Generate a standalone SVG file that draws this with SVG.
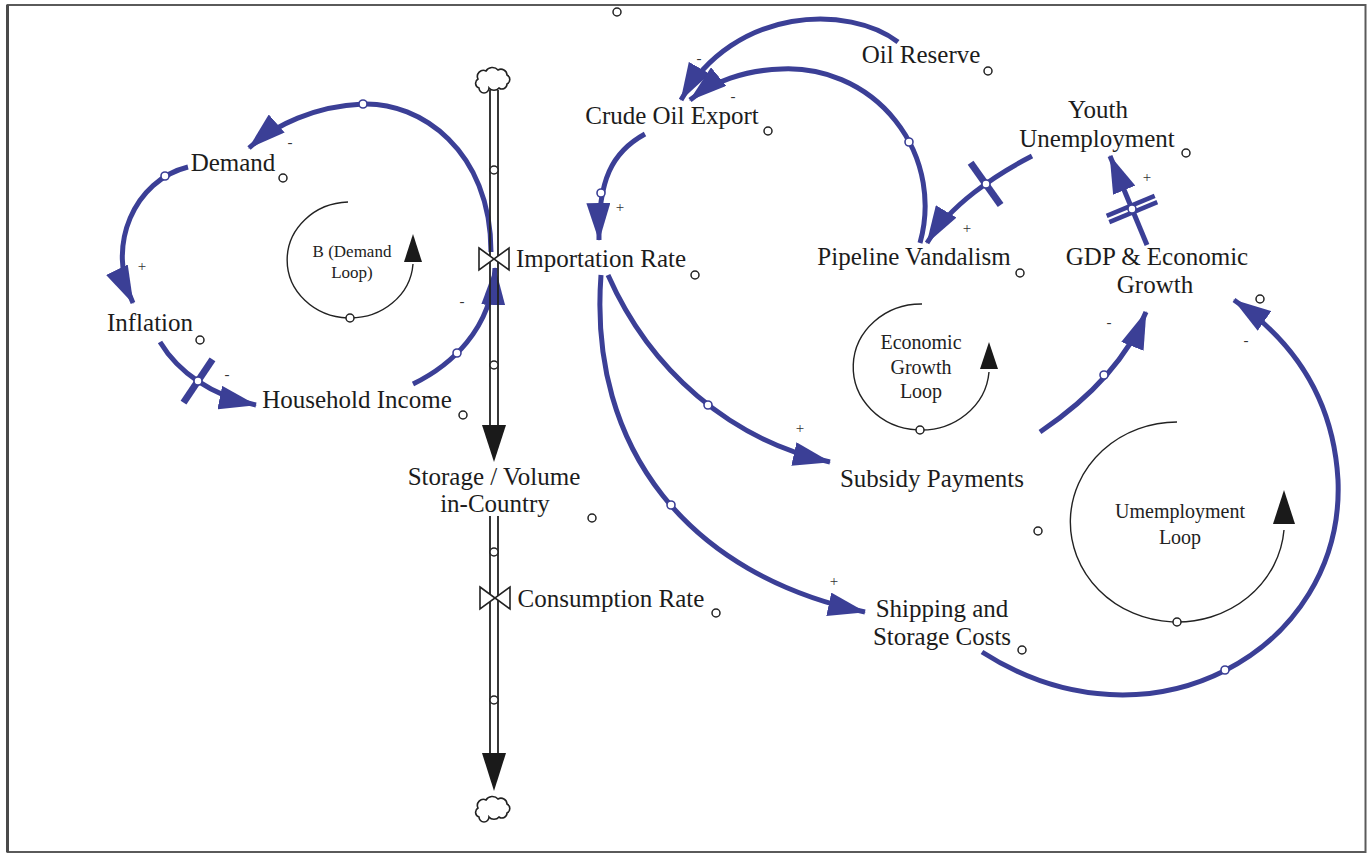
<svg xmlns="http://www.w3.org/2000/svg" xmlns:xlink="http://www.w3.org/1999/xlink" width="1369" height="856" viewBox="0 0 1369 856">
<style>
.lbl{font-family:"Liberation Serif","Times New Roman",serif;font-size:25px;fill:#1c1c1c;text-anchor:middle}
.loop{font-family:"Liberation Serif","Times New Roman",serif;font-size:20px;fill:#222;text-anchor:middle}
.sgn{font-family:"Liberation Serif","Times New Roman",serif;font-size:15px;fill:#333;text-anchor:middle}
.link{fill:none;stroke:#3b3f96;stroke-width:5;marker-end:url(#ah)}
.bar{stroke:#3b3f96;stroke-width:7;stroke-linecap:butt}
.bar2{stroke:#3b3f96;stroke-width:4.5;stroke-linecap:butt}
.hc{fill:#fff;stroke:#3b3f96;stroke-width:1.6}
.oc{fill:#fff;stroke:#222;stroke-width:1.5}
.pipe{stroke:#222;stroke-width:1.8;fill:none}
.valve{fill:#fff;stroke:#222;stroke-width:1.6}
.cloud{fill:#fff;stroke:#222;stroke-width:1.6}
.larc{fill:none;stroke:#222;stroke-width:1.4}
</style>
<defs>
<marker id="ah" markerUnits="userSpaceOnUse" markerWidth="38" markerHeight="24" viewBox="0 0 38 24" refX="37" refY="12" orient="auto">
<path d="M0,0 L38,12 L0,24 z" fill="#3b3f96"/>
</marker>
<path id="cloudshape" class="cloud" d="M479,88 a5,5 0 0,1 -1,-9 a6,6 0 0,1 8,-8 a7,6 0 0,1 12,-1 a6,6 0 0,1 9,5 a5,5 0 0,1 0,9 a5,5 0 0,1 -8,4 a6,5 0 0,1 -10,0 a5,5 0 0,1 -10,0 z"/>
</defs>
<rect x="0" y="0" width="1369" height="856" fill="#fff"/>
<g id="frame">
<rect x="7.5" y="5" width="1358" height="847" fill="none" stroke="#5a5a5a" stroke-width="2"/>
<line x1="7.5" y1="5" x2="7.5" y2="852" stroke="#4a4a4a" stroke-width="3"/>
<circle class="oc" cx="617" cy="12" r="4"/>
</g>

<g id="connectors">
<path class="link" d="M491,252 C491,150 420,102 363,104 C315,106 275,125 249,148"/>
<circle class="hc" cx="363" cy="104" r="4"/>
<path class="link" d="M188,167 C135,180 105,245 133,303"/>
<circle class="hc" cx="165" cy="176" r="4"/>
<path class="link" d="M160,342 C178,372 212,396 256,405"/>
<line class="bar" x1="183.5" y1="402.6" x2="212.5" y2="359.4"/>
<circle class="hc" cx="198" cy="381" r="4"/>
<path class="link" d="M413,384 C450,366 492,330 495,268"/>
<circle class="hc" cx="457" cy="353" r="4"/>
<path class="link" d="M645,134 C612,152 598,180 599,240"/>
<circle class="hc" cx="601" cy="193" r="4"/>
<path class="link" d="M898,42 C850,5 735,5 681,100"/>
<path class="link" d="M920,243 A137,137 0 0,0 782,69 C745,70 712,82 690,100"/>
<circle class="hc" cx="909" cy="142" r="4"/>
<path class="link" d="M1032,156 C995,175 950,205 927,243"/>
<line class="bar" x1="970.6" y1="162.7" x2="1000.6" y2="205.1"/>
<circle class="hc" cx="986" cy="184" r="4"/>
<path class="link" d="M1147,245 L1110,156"/>
<line class="bar2" x1="1106.7" y1="215.8" x2="1154.7" y2="195.8"/>
<line class="bar2" x1="1109.3" y1="222.2" x2="1157.3" y2="202.2"/>
<circle class="hc" cx="1132" cy="209" r="4"/>
<path class="link" d="M608,275 C650,370 730,440 830,462"/>
<circle class="hc" cx="708" cy="405" r="4"/>
<path class="link" d="M601,275 C588,450 690,575 865,612"/>
<circle class="hc" cx="671" cy="505" r="4"/>
<path class="link" d="M1040,432 C1080,405 1125,365 1146,312"/>
<circle class="hc" cx="1104" cy="375" r="4"/>
<path class="link" d="M982,652 C1150,760 1345,650 1338,480 C1333,390 1285,335 1234,300"/>
<circle class="hc" cx="1225" cy="670" r="4"/>
<text class="sgn" x="290" y="147">-</text>
<text class="sgn" x="142" y="271">+</text>
<text class="sgn" x="227" y="379">-</text>
<text class="sgn" x="462" y="306">-</text>
<text class="sgn" x="620" y="212">+</text>
<text class="sgn" x="699" y="63">-</text>
<text class="sgn" x="733" y="101">-</text>
<text class="sgn" x="967" y="233">+</text>
<text class="sgn" x="1147" y="182">+</text>
<text class="sgn" x="800" y="433">+</text>
<text class="sgn" x="834" y="586">+</text>
<text class="sgn" x="1109" y="327">-</text>
<text class="sgn" x="1246" y="345">-</text>
</g>

<g id="stock-flow">
<use xlink:href="#cloudshape"/>
<line class="pipe" x1="490" y1="90" x2="490" y2="426"/>
<line class="pipe" x1="498" y1="90" x2="498" y2="426"/>
<polygon points="482,425 506,425 494,462" fill="#1a1a1a"/>
<circle class="oc" cx="494" cy="170" r="4"/>
<circle class="oc" cx="494" cy="365" r="4"/>
<line class="pipe" x1="490" y1="516" x2="490" y2="754"/>
<line class="pipe" x1="498" y1="516" x2="498" y2="754"/>
<polygon points="482,753 506,753 494,791" fill="#1a1a1a"/>
<circle class="oc" cx="494" cy="552" r="4"/>
<circle class="oc" cx="494" cy="700" r="4"/>
<use xlink:href="#cloudshape" transform="translate(0,729)"/>
</g>

<g id="importation-rate">
<path class="valve" d="M479,248 L509,270 L509,248 L479,270 Z"/>
<text class="lbl" x="601" y="267">Importation Rate</text>
<circle class="oc" cx="695" cy="275" r="4"/>
</g>
<g id="storage">
<text class="lbl" x="494" y="485">Storage / Volume</text>
<text class="lbl" x="495" y="512">in-Country</text>
<circle class="oc" cx="592" cy="518" r="4"/>
</g>
<g id="consumption-rate">
<path class="valve" d="M480,587 L510,609 L510,587 L480,609 Z"/>
<text class="lbl" x="611" y="607">Consumption Rate</text>
<circle class="oc" cx="716" cy="613" r="4"/>
</g>
<g id="demand">
<text class="lbl" x="233" y="171">Demand</text>
<circle class="oc" cx="283" cy="178" r="4"/>
</g>
<g id="inflation">
<text class="lbl" x="150" y="331">Inflation</text>
<circle class="oc" cx="200" cy="340" r="4"/>
</g>
<g id="household-income">
<text class="lbl" x="357" y="408">Household Income</text>
<circle class="oc" cx="463" cy="415" r="4"/>
</g>
<g id="crude-oil-export">
<text class="lbl" x="672" y="124">Crude Oil Export</text>
<circle class="oc" cx="768" cy="131" r="4"/>
</g>
<g id="oil-reserve">
<text class="lbl" x="921" y="63">Oil Reserve</text>
<circle class="oc" cx="988" cy="71" r="4"/>
</g>
<g id="youth-unemployment">
<text class="lbl" x="1098" y="118">Youth</text>
<text class="lbl" x="1097" y="147">Unemployment</text>
<circle class="oc" cx="1186" cy="153" r="4"/>
</g>
<g id="pipeline-vandalism">
<text class="lbl" x="914" y="265">Pipeline Vandalism</text>
<circle class="oc" cx="1020" cy="273" r="4"/>
</g>
<g id="gdp">
<text class="lbl" x="1157" y="265">GDP &amp; Economic</text>
<text class="lbl" x="1155" y="293">Growth</text>
<circle class="oc" cx="1260" cy="299" r="4"/>
</g>
<g id="subsidy-payments">
<text class="lbl" x="932" y="487">Subsidy Payments</text>
<circle class="oc" cx="1038" cy="531" r="4"/>
</g>
<g id="shipping-costs">
<text class="lbl" x="942" y="617">Shipping and</text>
<text class="lbl" x="942" y="645">Storage Costs</text>
<circle class="oc" cx="1022" cy="650" r="4"/>
</g>

<g id="demand-loop">
<path class="larc" d="M348,202 A63,58 0 1,0 413,264"/>
<polygon points="404,262 422,262 413,234" fill="#1a1a1a"/>
<circle class="oc" cx="350" cy="318" r="4"/>
<text class="loop" x="352" y="257" style="font-size:17px">B (Demand</text>
<text class="loop" x="352" y="278" style="font-size:17px">Loop)</text>
</g>
<g id="economic-growth-loop">
<path class="larc" d="M922,304 A68,63 0 1,0 989,372"/>
<polygon points="980,369 998,369 989,342" fill="#1a1a1a"/>
<circle class="oc" cx="920" cy="430" r="4"/>
<text class="loop" x="921" y="349">Economic</text>
<text class="loop" x="921" y="374">Growth</text>
<text class="loop" x="921" y="398">Loop</text>
</g>
<g id="unemployment-loop">
<path class="larc" d="M1177,422 A107,100 0 1,0 1284,530"/>
<polygon points="1273,524 1295,524 1284,490" fill="#1a1a1a"/>
<circle class="oc" cx="1177" cy="622" r="4"/>
<text class="loop" x="1180" y="518">Umemployment</text>
<text class="loop" x="1180" y="544">Loop</text>
</g>
</svg>
